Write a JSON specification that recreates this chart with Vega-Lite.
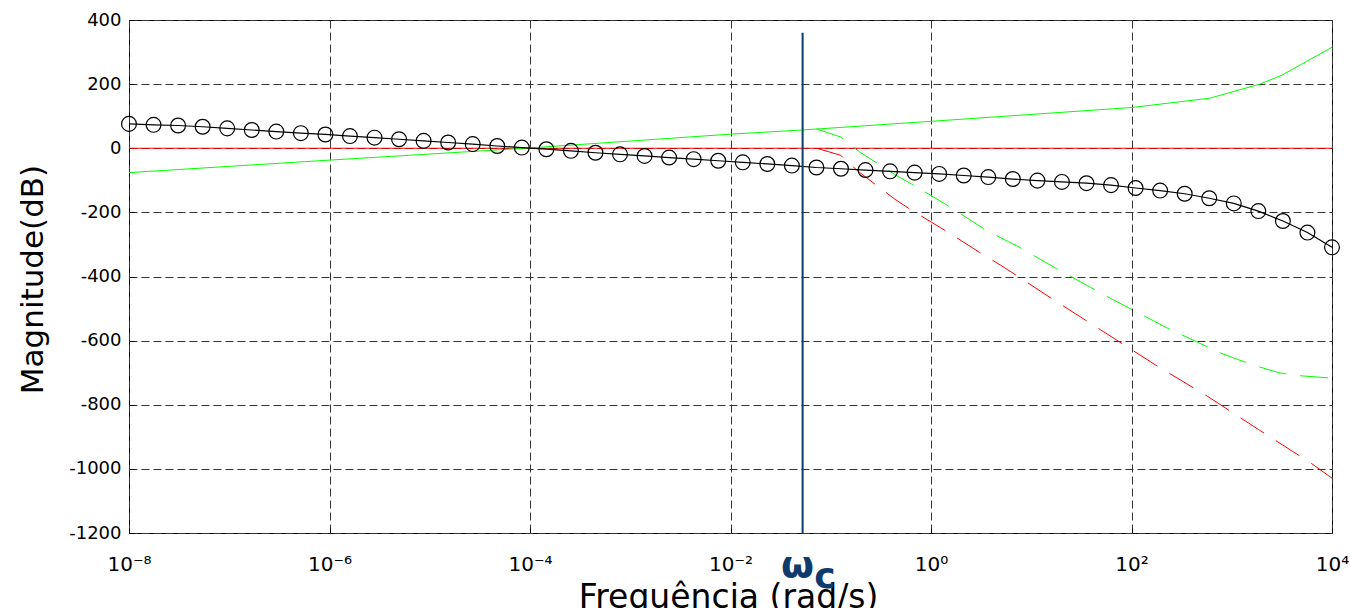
{
  "$schema": "https://vega.github.io/schema/vega-lite/v6.json",
  "width": 1203,
  "height": 513,
  "autosize": {"type": "none"},
  "padding": {"left": 129, "top": 20, "right": 18, "bottom": 75},
  "background": "white",
  "config": {
    "view": {"stroke": "black", "strokeWidth": 1},
    "axis": {
      "domain": false,
      "grid": true,
      "gridColor": "#333333",
      "gridDash": [8, 4],
      "gridWidth": 1,
      "gridOpacity": 1,
      "ticks": true,
      "tickSize": -5,
      "tickColor": "black",
      "labelColor": "black",
      "labelFont": "DejaVu Sans",
      "titleFont": "DejaVu Sans",
      "titleFontWeight": "normal",
      "titleColor": "black"
    }
  },
  "datasets": {
    "black": [
      {"f": 1e-8, "db": 76}, {"f": 1.7575e-8, "db": 73}, {"f": 3.0888e-8, "db": 71}, {"f": 5.4287e-8, "db": 67},
      {"f": 9.541e-8, "db": 62}, {"f": 1.6768e-7, "db": 57}, {"f": 2.9471e-7, "db": 52}, {"f": 5.1795e-7, "db": 47},
      {"f": 9.103e-7, "db": 43}, {"f": 1.5999e-6, "db": 38}, {"f": 2.8118e-6, "db": 33}, {"f": 4.9417e-6, "db": 28},
      {"f": 8.6851e-6, "db": 23}, {"f": 1.5264e-5, "db": 18}, {"f": 2.6827e-5, "db": 13}, {"f": 4.7149e-5, "db": 7},
      {"f": 8.2864e-5, "db": 2}, {"f": 1.4563e-4, "db": -3}, {"f": 2.5595e-4, "db": -8}, {"f": 4.4984e-4, "db": -14},
      {"f": 7.906e-4, "db": -19}, {"f": 1.3895e-3, "db": -24}, {"f": 2.442e-3, "db": -29}, {"f": 4.2919e-3, "db": -34},
      {"f": 7.5431e-3, "db": -39}, {"f": 1.3257e-2, "db": -44}, {"f": 2.33e-2, "db": -49}, {"f": 4.0949e-2, "db": -54},
      {"f": 7.1969e-2, "db": -60}, {"f": 0.12649, "db": -64}, {"f": 0.2223, "db": -68}, {"f": 0.39069, "db": -72},
      {"f": 0.68665, "db": -76}, {"f": 1.2068, "db": -80}, {"f": 2.121, "db": -85}, {"f": 3.7276, "db": -90},
      {"f": 6.5513, "db": -96}, {"f": 11.514, "db": -101}, {"f": 20.236, "db": -105}, {"f": 35.565, "db": -109},
      {"f": 62.506, "db": -115}, {"f": 109.85, "db": -124}, {"f": 193.07, "db": -132}, {"f": 339.32, "db": -142},
      {"f": 596.36, "db": -156}, {"f": 1048.1, "db": -172}, {"f": 1842.1, "db": -196}, {"f": 3237.5, "db": -227},
      {"f": 5689.9, "db": -263}, {"f": 10000, "db": -309}
    ],
    "greenSolid": [
      {"f": 1e-8, "db": -76}, {"f": 1e-6, "db": -37}, {"f": 1e-4, "db": 1}, {"f": 0.01, "db": 44},
      {"f": 0.0525, "db": 57}, {"f": 1, "db": 84}, {"f": 100, "db": 127}, {"f": 602.6, "db": 156},
      {"f": 1905, "db": 200}, {"f": 3162, "db": 228}, {"f": 10000, "db": 315}
    ],
    "redSolid": [
      {"f": 1e-8, "db": 0}, {"f": 10000, "db": 0}
    ],
    "redDash": [
      {"f": 0.0724, "db": 0}, {"f": 0.1259, "db": -22}, {"f": 0.1413, "db": -38}, {"f": 0.195, "db": -76},
      {"f": 0.4365, "db": -159}, {"f": 0.631, "db": -192}, {"f": 1.514, "db": -264}, {"f": 2.884, "db": -320},
      {"f": 4.898, "db": -364}, {"f": 6.607, "db": -390}, {"f": 15.85, "db": -468}, {"f": 52.48, "db": -572},
      {"f": 173.8, "db": -676}, {"f": 575.4, "db": -774}, {"f": 1862, "db": -878}, {"f": 6166, "db": -982},
      {"f": 10000, "db": -1029}
    ],
    "greenDash": [
      {"f": 0.0724, "db": 60}, {"f": 0.1259, "db": 35}, {"f": 0.1413, "db": 22}, {"f": 0.195, "db": -12},
      {"f": 0.4571, "db": -86}, {"f": 0.6457, "db": -112}, {"f": 1.585, "db": -185}, {"f": 3.548, "db": -256},
      {"f": 7.244, "db": -305}, {"f": 17.78, "db": -375}, {"f": 61.66, "db": -468}, {"f": 218.8, "db": -558},
      {"f": 776.2, "db": -639}, {"f": 1585, "db": -675}, {"f": 2951, "db": -700}, {"f": 4169, "db": -708},
      {"f": 10000, "db": -717}
    ],
    "wc": [{"f": 0.0524, "db": 360, "db2": -1200}],
    "omega": [{"f": 0.0465, "db": -1336, "t": "ω"}],
    "sub": [{"f": 0.0873, "db": -1370, "t": "c"}]
  },
  "encoding": {
    "x": {
      "field": "f",
      "type": "quantitative",
      "scale": {"type": "log", "domain": [1e-8, 10000], "nice": false},
      "axis": {
        "values": [1e-8, 1e-6, 1e-4, 1e-2, 1, 100, 10000],
        "labelExpr": "['10⁻⁸','10⁻⁶','10⁻⁴','10⁻²','10⁰','10²','10⁴'][round(log(datum.value)/LN10/2)+4]",
        "labelFontSize": 20,
        "labelPadding": 26,
        "labelFlush": false,
        "labelOverlap": false,
        "title": "Frequência (rad/s)",
        "titleFontSize": 33,
        "titleX": 599,
        "titleY": 74,
        "titleAlign": "center",
        "titleBaseline": "alphabetic"
      }
    },
    "y": {
      "field": "db",
      "type": "quantitative",
      "scale": {"domain": [-1200, 400], "nice": false, "zero": false},
      "axis": {
        "values": [-1200, -1000, -800, -600, -400, -200, 0, 200, 400],
        "labelExpr": "'' + datum.value",
        "labelFontSize": 18,
        "labelPadding": 13,
        "labelFlush": false,
        "labelOverlap": false,
        "title": "Magnitude(dB)",
        "titleFontSize": 31,
        "titleAngle": -90,
        "titleX": -87,
        "titleY": 259,
        "titleAlign": "center",
        "titleBaseline": "alphabetic"
      }
    }
  },
  "layer": [
    {
      "data": {"name": "redSolid"},
      "mark": {"type": "line", "color": "#ff0000", "strokeWidth": 1}
    },
    {
      "data": {"name": "greenSolid"},
      "mark": {"type": "line", "color": "#00ff00", "strokeWidth": 1}
    },
    {
      "data": {"name": "redDash"},
      "mark": {"type": "line", "color": "#ff0000", "strokeWidth": 1, "strokeDash": [28, 14]}
    },
    {
      "data": {"name": "greenDash"},
      "mark": {"type": "line", "color": "#00ff00", "strokeWidth": 1, "strokeDash": [28, 14]}
    },
    {
      "data": {"name": "black"},
      "mark": {"type": "line", "color": "black", "strokeWidth": 1.2}
    },
    {
      "data": {"name": "black"},
      "mark": {"type": "point", "shape": "circle", "filled": false, "color": "black", "strokeWidth": 1.2, "size": 220, "opacity": 1}
    },
    {
      "data": {"name": "wc"},
      "mark": {"type": "rule", "color": "#0d3b6e", "strokeWidth": 2},
      "encoding": {"y2": {"field": "db2"}}
    },
    {
      "data": {"name": "omega"},
      "mark": {"type": "text", "color": "#0d3b6e", "font": "DejaVu Sans", "fontWeight": "bold", "fontSize": 38, "align": "center", "baseline": "alphabetic"},
      "encoding": {"text": {"field": "t"}}
    },
    {
      "data": {"name": "sub"},
      "mark": {"type": "text", "color": "#0d3b6e", "font": "DejaVu Sans", "fontWeight": "bold", "fontSize": 36, "align": "center", "baseline": "alphabetic"},
      "encoding": {"text": {"field": "t"}}
    }
  ]
}
